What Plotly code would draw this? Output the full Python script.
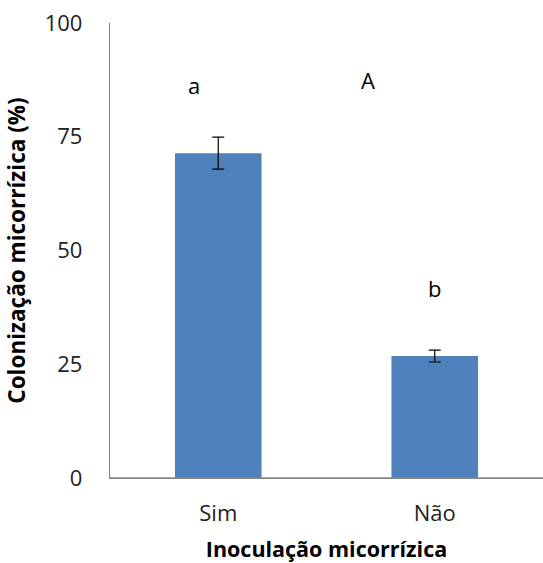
import plotly.graph_objects as go

categories = ["Sim", "Não"]
values = [71.4, 26.8]
errors = [3.5, 1.3]
letters = ["a", "b"]
letter_y = [86.4, 41.8]
letter_dx = [-0.11, 0.0]
panel_label = "A"
panel_x = 0.69
panel_y = 87.5
yticks = [0, 25, 50, 75, 100]

FONT = "Open Sans"
AXIS = "#868686"
fig = go.Figure()
fig.add_trace(go.Bar(
    x=list(range(len(categories))), y=values,
    width=0.4,
    marker=dict(color="#4F81BD", line=dict(width=0)),
    error_y=dict(type="data", array=errors, color="black", thickness=1.2, width=6),
))
for i, (t, yv, dx) in enumerate(zip(letters, letter_y, letter_dx)):
    fig.add_annotation(x=i + dx, y=yv, text=t, showarrow=False,
                       font=dict(family=FONT, size=22, color="black"))
fig.add_annotation(x=panel_x, y=panel_y, text=panel_label, showarrow=False,
                   font=dict(family=FONT, size=22, color="black"))
# baseline across the full plot width
fig.add_shape(type="line", xref="paper", yref="paper", x0=0, x1=1, y0=0, y1=0,
              line=dict(color=AXIS, width=1.5), layer="above")

fig.update_layout(
    width=543, height=563,
    margin=dict(l=110, r=0, t=23, b=85),
    plot_bgcolor="white", paper_bgcolor="white",
    showlegend=False,
    font=dict(family=FONT, color="black"),
)
fig.update_xaxes(
    range=[-0.5, 1.5], automargin=False,
    tickvals=list(range(len(categories))), ticktext=categories,
    showline=True, linecolor=AXIS, linewidth=1.3,
    ticks="outside", ticklen=15, tickcolor="rgba(0,0,0,0)",
    tickfont=dict(family=FONT, size=22, color="#222"),
    showgrid=False, zeroline=False,
    title=dict(text="<b>Inoculação micorrízica</b>", font=dict(family=FONT, size=21.5, color="black"), standoff=18),
)
fig.update_yaxes(
    range=[0, 100], tickvals=yticks, automargin=False,
    ticklabeloverflow="allow",
    showline=True, linecolor=AXIS, linewidth=1.3,
    ticks="outside", ticklen=22, tickcolor="rgba(0,0,0,0)",
    tickfont=dict(family=FONT, size=22, color="#222"),
    showgrid=False, zeroline=False,
    title=dict(text="<b>Colonização micorrízica (%)</b>", font=dict(family=FONT, size=22.5, color="black"), standoff=12),
)
fig.write_html(
    "out.html",
    config={"displayModeBar": False},
    post_script="document.body.style.margin='0';document.body.style.overflow='hidden';",
)
